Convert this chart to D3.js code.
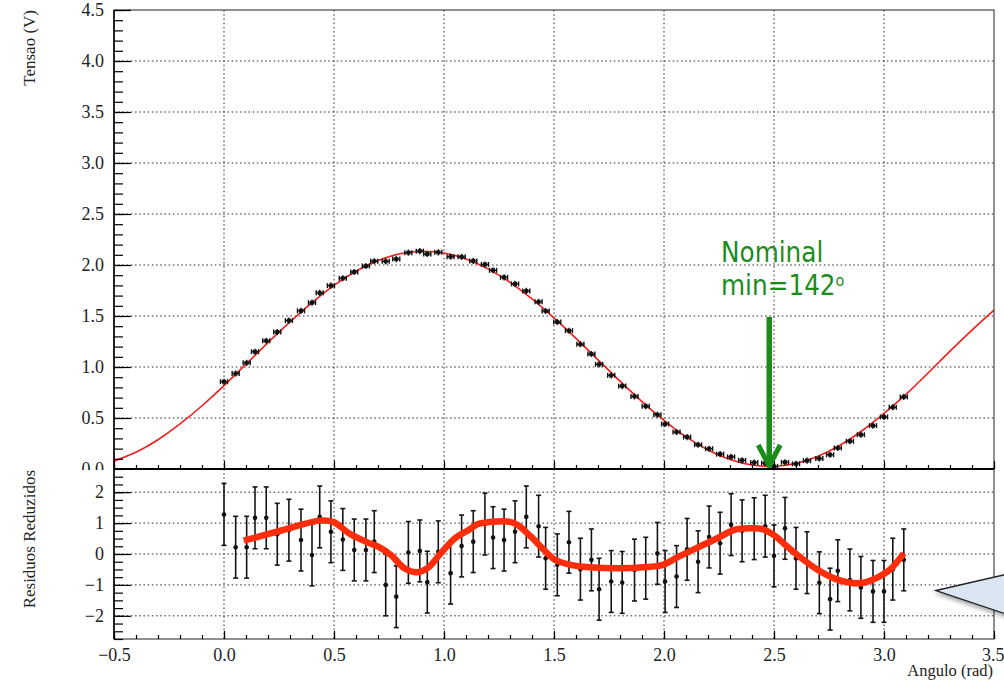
<!DOCTYPE html>
<html lang="pt">
<head>
<meta charset="UTF-8"/>
<title>Tensao vs Angulo</title>
<script src="https://d3js.org/d3.v7.min.js"></script>
<style>
  body { margin: 0; background: #fff; }
  svg { display: block; }
</style>
</head>
<body>
<div id="chart"></div>
<script>
// Measured points (angle in rad, voltage in V, reduced residual)
var angles = [0.000,0.053,0.103,0.141,0.192,0.242,0.295,0.350,0.400,0.435,
  0.486,0.540,0.592,0.645,0.683,0.735,0.783,0.838,0.890,0.924,
  0.974,1.030,1.080,1.133,1.186,1.223,1.273,1.323,1.374,1.430,
  1.462,1.515,1.568,1.620,1.670,1.705,1.760,1.810,1.866,1.917,
  1.970,2.005,2.057,2.105,2.155,2.205,2.255,2.305,2.355,2.410,
  2.460,2.500,2.550,2.600,2.650,2.706,2.755,2.790,2.845,2.895,
  2.950,3.000,3.040,3.090];
var tensao = [0.856,0.936,1.041,1.150,1.257,1.343,1.455,1.551,1.631,1.727,
  1.798,1.870,1.932,1.990,2.037,2.036,2.058,2.121,2.136,2.108,
  2.124,2.082,2.080,2.040,2.005,1.948,1.879,1.815,1.746,1.639,
  1.549,1.441,1.356,1.223,1.127,1.026,0.918,0.813,0.712,0.615,
  0.532,0.441,0.362,0.313,0.238,0.199,0.146,0.119,0.085,0.063,
  0.058,0.024,0.066,0.051,0.082,0.103,0.140,0.206,0.272,0.336,
  0.425,0.510,0.605,0.707];
var residuos = [1.28,0.22,0.22,1.17,1.17,0.64,0.77,0.45,-0.03,1.20,
  0.72,0.47,0.13,0.13,0.40,-1.00,-1.38,0.05,0.10,-0.91,
  0.07,-0.62,0.26,0.40,0.97,0.53,0.45,0.72,1.20,0.90,
  -0.14,-0.35,0.38,-0.49,-0.19,-1.14,-0.89,-0.92,-0.52,-0.46,
  0.02,-0.89,-0.73,0.15,-0.25,0.55,0.35,0.95,0.75,0.82,
  0.90,-0.06,0.83,-0.14,-0.28,-0.93,-1.46,-0.54,-0.84,-1.08,
  -1.21,-1.21,-0.49,-0.19];

// Fitted curve, every 0.1 rad
var fitAngles = [-0.5,-0.4,-0.3,-0.2,-0.1,0.0,0.1,0.2,0.3,0.4,0.5,0.6,0.7,0.8,0.9,1.0,
  1.1,1.2,1.3,1.4,1.5,1.6,1.7,1.8,1.9,2.0,2.1,2.2,2.3,2.4,2.5,2.6,2.7,2.8,2.9,3.0,
  3.1,3.2,3.3,3.4,3.5];
var fitTensao = [0.079,0.165,0.287,0.442,0.620,0.818,1.028,1.239,1.442,1.632,1.800,
  1.939,2.043,2.110,2.135,2.118,2.060,1.962,1.830,1.668,1.482,1.280,1.070,0.861,
  0.660,0.476,0.315,0.187,0.093,0.039,0.026,0.055,0.125,0.233,0.375,0.546,0.731,
  0.941,1.155,1.362,1.557];

// Hand drawn smoothing of the residuals (thick red line)
var mediaAngles = [0.09,0.26,0.435,0.497,0.568,0.644,0.705,0.76,0.82,0.88,0.925,0.985,
  1.05,1.11,1.155,1.215,1.30,1.335,1.395,1.455,1.50,1.575,1.68,1.80,1.905,1.995,
  2.06,2.15,2.24,2.32,2.39,2.45,2.50,2.56,2.62,2.70,2.77,2.845,2.905,2.965,3.025,3.09];
var mediaResiduos = [0.43,0.76,1.08,1.04,0.67,0.40,0.22,-0.04,-0.46,-0.59,-0.46,0.02,
  0.51,0.77,0.97,1.04,1.04,0.94,0.56,0.13,-0.17,-0.35,-0.44,-0.46,-0.43,-0.35,
  -0.11,0.20,0.50,0.78,0.83,0.80,0.61,0.24,-0.11,-0.52,-0.78,-0.93,-0.93,-0.78,-0.52,0.02];

// Tick values
var xTicks = [-0.5,0.0,0.5,1.0,1.5,2.0,2.5,3.0,3.5];
var yTicksTop = [0.0,0.5,1.0,1.5,2.0,2.5,3.0,3.5,4.0,4.5];
var yTicksRes = [-2,-1,0,1,2];
var nominalDeg = 142;

var width = 1004;
var height = 681;
var x0 = 114, x1 = 994;
var topY0 = 10, topY1 = 469;
var resY0 = 469, resY1 = 639;

var x = d3.scaleLinear().domain([-0.5, 3.5]).range([x0, x1]);
var yTop = d3.scaleLinear().domain([0, 4.5]).range([topY1, topY0]);
var yRes = d3.scaleLinear().domain([-2.75, 2.75]).range([resY1, resY0]);

var svg = d3.select("#chart")
  .append("svg")
  .attr("width", width)
  .attr("height", height);

svg.append("rect").attr("width", width).attr("height", height).attr("fill", "#fff");

var defs = svg.append("defs");
defs.append("clipPath").attr("id", "clipTop")
  .append("rect").attr("x", x0).attr("y", topY0).attr("width", x1 - x0).attr("height", topY1 - topY0);
defs.append("filter").attr("id", "sombra").attr("x", "-20%").attr("y", "-20%").attr("width", "140%").attr("height", "160%")
  .append("feDropShadow").attr("dx", 1).attr("dy", 3).attr("stdDeviation", 2).attr("flood-color", "#000").attr("flood-opacity", 0.35);

var serif = "'Liberation Serif', 'Times New Roman', serif";
var gridColor = "#333";
var gridDash = "1.6,2.6";

// style the tick labels the way ROOT does
function styleAxis(g) {
  g.select(".domain").remove();
  g.selectAll(".tick line").attr("stroke", "#000").attr("stroke-width", 1.2);
  g.selectAll("text").style("font-family", serif).style("font-size", "18px").attr("fill", "#222");
}

var pontos = angles.map(function(a, i) {
  return { x: a, y: tensao[i], r: residuos[i] };
});

// ---------------- top panel ----------------
var sup = svg.append("g");

// grid
sup.selectAll("line.vgrid")
  .data(xTicks.filter(function(d) { return d > -0.5 && d < 3.5; }))
  .enter().append("line")
  .attr("x1", function(d) { return x(d); })
  .attr("x2", function(d) { return x(d); })
  .attr("y1", topY0).attr("y2", topY1)
  .attr("stroke", gridColor).attr("stroke-dasharray", gridDash);

sup.selectAll("line.hgrid")
  .data(yTicksTop.filter(function(d) { return d > 0 && d < 4.5; }))
  .enter().append("line")
  .attr("x1", x0).attr("x2", x1)
  .attr("y1", function(d) { return yTop(d); })
  .attr("y2", function(d) { return yTop(d); })
  .attr("stroke", gridColor).attr("stroke-dasharray", gridDash);

// fit curve
var fitLine = d3.line()
  .x(function(d, i) { return x(fitAngles[i]); })
  .y(function(d) { return yTop(d); })
  .curve(d3.curveNatural);

sup.append("path")
  .datum(fitTensao)
  .attr("clip-path", "url(#clipTop)")
  .attr("d", fitLine)
  .attr("fill", "none")
  .attr("stroke", "#f21d1d")
  .attr("stroke-width", 1.6);

// data points with small error bars
var xerr = 0.016, yerr = 0.03;
var marks = sup.selectAll("g.ponto")
  .data(pontos)
  .enter().append("g")
  .attr("stroke", "#111")
  .attr("stroke-width", 1.4);

marks.append("line")
  .attr("x1", function(d) { return x(d.x - xerr); })
  .attr("x2", function(d) { return x(d.x + xerr); })
  .attr("y1", function(d) { return yTop(d.y); })
  .attr("y2", function(d) { return yTop(d.y); });
marks.append("line")
  .attr("x1", function(d) { return x(d.x - xerr); })
  .attr("x2", function(d) { return x(d.x - xerr); })
  .attr("y1", function(d) { return yTop(d.y) - 2.5; })
  .attr("y2", function(d) { return yTop(d.y) + 2.5; });
marks.append("line")
  .attr("x1", function(d) { return x(d.x + xerr); })
  .attr("x2", function(d) { return x(d.x + xerr); })
  .attr("y1", function(d) { return yTop(d.y) - 2.5; })
  .attr("y2", function(d) { return yTop(d.y) + 2.5; });
marks.append("line")
  .attr("x1", function(d) { return x(d.x); })
  .attr("x2", function(d) { return x(d.x); })
  .attr("y1", function(d) { return yTop(d.y + yerr); })
  .attr("y2", function(d) { return yTop(d.y - yerr); });
marks.append("rect")
  .attr("x", function(d) { return x(d.x) - 2; })
  .attr("y", function(d) { return yTop(d.y) - 2; })
  .attr("width", 4).attr("height", 4)
  .attr("fill", "#111").attr("stroke", "none");

// frame
sup.append("rect")
  .attr("x", x0).attr("y", topY0)
  .attr("width", x1 - x0).attr("height", topY1 - topY0)
  .attr("fill", "none").attr("stroke", "#222").attr("stroke-width", 1);

// axes (ticks point inside the frame)
sup.append("g")
  .attr("transform", "translate(" + x0 + ",0)")
  .call(d3.axisLeft(yTop).tickValues(d3.range(0, 4.501, 0.1)).tickSize(-9).tickSizeOuter(0).tickFormat(""))
  .call(styleAxis);
sup.append("g")
  .attr("transform", "translate(" + x0 + ",0)")
  .call(d3.axisLeft(yTop).tickValues(yTicksTop).tickSize(-17).tickSizeOuter(0).tickPadding(10).tickFormat(d3.format(".1f")))
  .call(styleAxis);
sup.append("g")
  .attr("transform", "translate(0," + topY1 + ")")
  .call(d3.axisBottom(x).tickValues(d3.range(-0.5, 3.501, 0.1)).tickSize(-4).tickSizeOuter(0).tickFormat(""))
  .call(styleAxis);
sup.append("g")
  .attr("transform", "translate(0," + topY1 + ")")
  .call(d3.axisBottom(x).tickValues(xTicks).tickSize(-8).tickSizeOuter(0).tickFormat(""))
  .call(styleAxis);
sup.append("line")
  .attr("x1", x0).attr("x2", x0).attr("y1", topY0).attr("y2", topY1)
  .attr("stroke", "#000").attr("stroke-width", 1.5);

sup.append("text")
  .attr("transform", "translate(35," + topY0 + ") rotate(-90)")
  .attr("text-anchor", "end")
  .style("font-family", serif)
  .style("font-size", "17px")
  .attr("fill", "#222")
  .text("Tensao (V)");

// annotation: nominal minimum
var verde = "#1b8c1b";
var xNom = x(nominalDeg * Math.PI / 180);
var anot = sup.append("g")
  .style("font-family", "'DejaVu Sans Condensed', 'DejaVu Sans', Verdana, sans-serif")
  .style("font-stretch", "condensed")
  .attr("fill", verde);
anot.append("text").attr("x", 721).attr("y", 262).style("font-size", "27.5px").text("Nominal");
var t2 = anot.append("text").attr("x", 721).attr("y", 295).style("font-size", "27.5px");
t2.append("tspan").text("min=" + nominalDeg);
t2.append("tspan").attr("dy", -9).style("font-size", "16px").text("o");

sup.append("line")
  .attr("x1", xNom).attr("x2", xNom)
  .attr("y1", 317).attr("y2", yTop(0) - 4)
  .attr("stroke", verde).attr("stroke-width", 5.5);
sup.append("path")
  .attr("d", d3.line()([[xNom - 11, yTop(0) - 24], [xNom, yTop(0) - 3], [xNom + 11, yTop(0) - 24]]))
  .attr("fill", "none")
  .attr("stroke", verde)
  .attr("stroke-width", 5)
  .attr("stroke-linejoin", "miter");

// ---------------- residual panel ----------------
var inf = svg.append("g");

// the lower pad hides whatever of the upper pad runs below it
inf.append("rect")
  .attr("x", 0).attr("y", resY0 + 1)
  .attr("width", width).attr("height", height - resY0)
  .attr("fill", "#fff");

inf.selectAll("line.vgrid")
  .data(xTicks.filter(function(d) { return d > -0.5 && d < 3.5; }))
  .enter().append("line")
  .attr("x1", function(d) { return x(d); })
  .attr("x2", function(d) { return x(d); })
  .attr("y1", resY0).attr("y2", resY1)
  .attr("stroke", gridColor).attr("stroke-dasharray", gridDash);

inf.selectAll("line.hgrid")
  .data(yTicksRes)
  .enter().append("line")
  .attr("x1", x0).attr("x2", x1)
  .attr("y1", function(d) { return yRes(d); })
  .attr("y2", function(d) { return yRes(d); })
  .attr("stroke", gridColor).attr("stroke-dasharray", gridDash);

var resMarks = inf.selectAll("g.res")
  .data(pontos)
  .enter().append("g")
  .attr("stroke", "#151515")
  .attr("stroke-width", 1.6);

resMarks.append("line")
  .attr("x1", function(d) { return x(d.x); })
  .attr("x2", function(d) { return x(d.x); })
  .attr("y1", function(d) { return yRes(d.r + 1); })
  .attr("y2", function(d) { return yRes(d.r - 1); });
resMarks.append("line")
  .attr("x1", function(d) { return x(d.x) - 2.5; })
  .attr("x2", function(d) { return x(d.x) + 2.5; })
  .attr("y1", function(d) { return yRes(d.r + 1); })
  .attr("y2", function(d) { return yRes(d.r + 1); });
resMarks.append("line")
  .attr("x1", function(d) { return x(d.x) - 2.5; })
  .attr("x2", function(d) { return x(d.x) + 2.5; })
  .attr("y1", function(d) { return yRes(d.r - 1); })
  .attr("y2", function(d) { return yRes(d.r - 1); });
resMarks.append("circle")
  .attr("cx", function(d) { return x(d.x); })
  .attr("cy", function(d) { return yRes(d.r); })
  .attr("r", 2.3)
  .attr("fill", "#111").attr("stroke", "none");

// thick red smoothing line
var mediaLine = d3.line()
  .x(function(d, i) { return x(mediaAngles[i]); })
  .y(function(d) { return yRes(d); })
  .curve(d3.curveCatmullRom);

inf.append("path")
  .datum(mediaResiduos)
  .attr("d", mediaLine)
  .attr("fill", "none")
  .attr("stroke", "#ff2d0a")
  .attr("stroke-width", 6.5)
  .attr("stroke-linecap", "butt")
  .attr("stroke-linejoin", "round");

inf.append("rect")
  .attr("x", x0).attr("y", resY0)
  .attr("width", x1 - x0).attr("height", resY1 - resY0)
  .attr("fill", "none").attr("stroke", "#222").attr("stroke-width", 1);

inf.append("g")
  .attr("transform", "translate(" + x0 + ",0)")
  .call(d3.axisLeft(yRes).tickValues(d3.range(-2.75, 2.751, 0.25)).tickSize(-9).tickSizeOuter(0).tickFormat(""))
  .call(styleAxis);
inf.append("g")
  .attr("transform", "translate(" + x0 + ",0)")
  .call(d3.axisLeft(yRes).tickValues(yTicksRes).tickSize(-17).tickSizeOuter(0).tickPadding(10)
    .tickFormat(function(d) { return d < 0 ? "\u2212" + Math.abs(d) : d; }))
  .call(styleAxis);
inf.append("g")
  .attr("transform", "translate(0," + resY1 + ")")
  .call(d3.axisBottom(x).tickValues(d3.range(-0.5, 3.501, 0.1)).tickSize(-4).tickSizeOuter(0).tickFormat(""))
  .call(styleAxis);
var xAxisG = inf.append("g")
  .attr("transform", "translate(0," + resY1 + ")")
  .call(d3.axisBottom(x).tickValues(xTicks).tickSize(-8).tickSizeOuter(0).tickPadding(9)
    .tickFormat(function(d) { return (d < 0 ? "\u2212" : "") + Math.abs(d).toFixed(1); }))
  .call(styleAxis);
// last label sits at the page edge: keep it inside
xAxisG.selectAll(".tick text")
  .filter(function(d) { return d === 3.5; })
  .attr("text-anchor", "end")
  .attr("x", 10);
inf.append("line")
  .attr("x1", x0).attr("x2", x0).attr("y1", resY0).attr("y2", resY1)
  .attr("stroke", "#000").attr("stroke-width", 1.5);
inf.append("line")
  .attr("x1", x0).attr("x2", x1).attr("y1", resY0).attr("y2", resY0)
  .attr("stroke", "#000").attr("stroke-width", 2);

inf.append("text")
  .attr("transform", "translate(35," + (resY0 + 1) + ") rotate(-90)")
  .attr("text-anchor", "end")
  .style("font-family", serif)
  .style("font-size", "17px")
  .attr("fill", "#222")
  .text("Residuos Reduzidos");

inf.append("text")
  .attr("x", 993).attr("y", 676)
  .attr("text-anchor", "end")
  .style("font-family", serif)
  .style("font-size", "16.5px")
  .attr("fill", "#222")
  .text("Angulo (rad)");

// callout tail coming in from the right edge
inf.append("path")
  .attr("d", d3.line()([[936, 590.5], [1012, 573], [1012, 616]]) + "Z")
  .attr("fill", "#dce6f2")
  .attr("stroke", "#222")
  .attr("stroke-width", 1.3)
  .attr("filter", "url(#sombra)");
</script>
</body>
</html>
